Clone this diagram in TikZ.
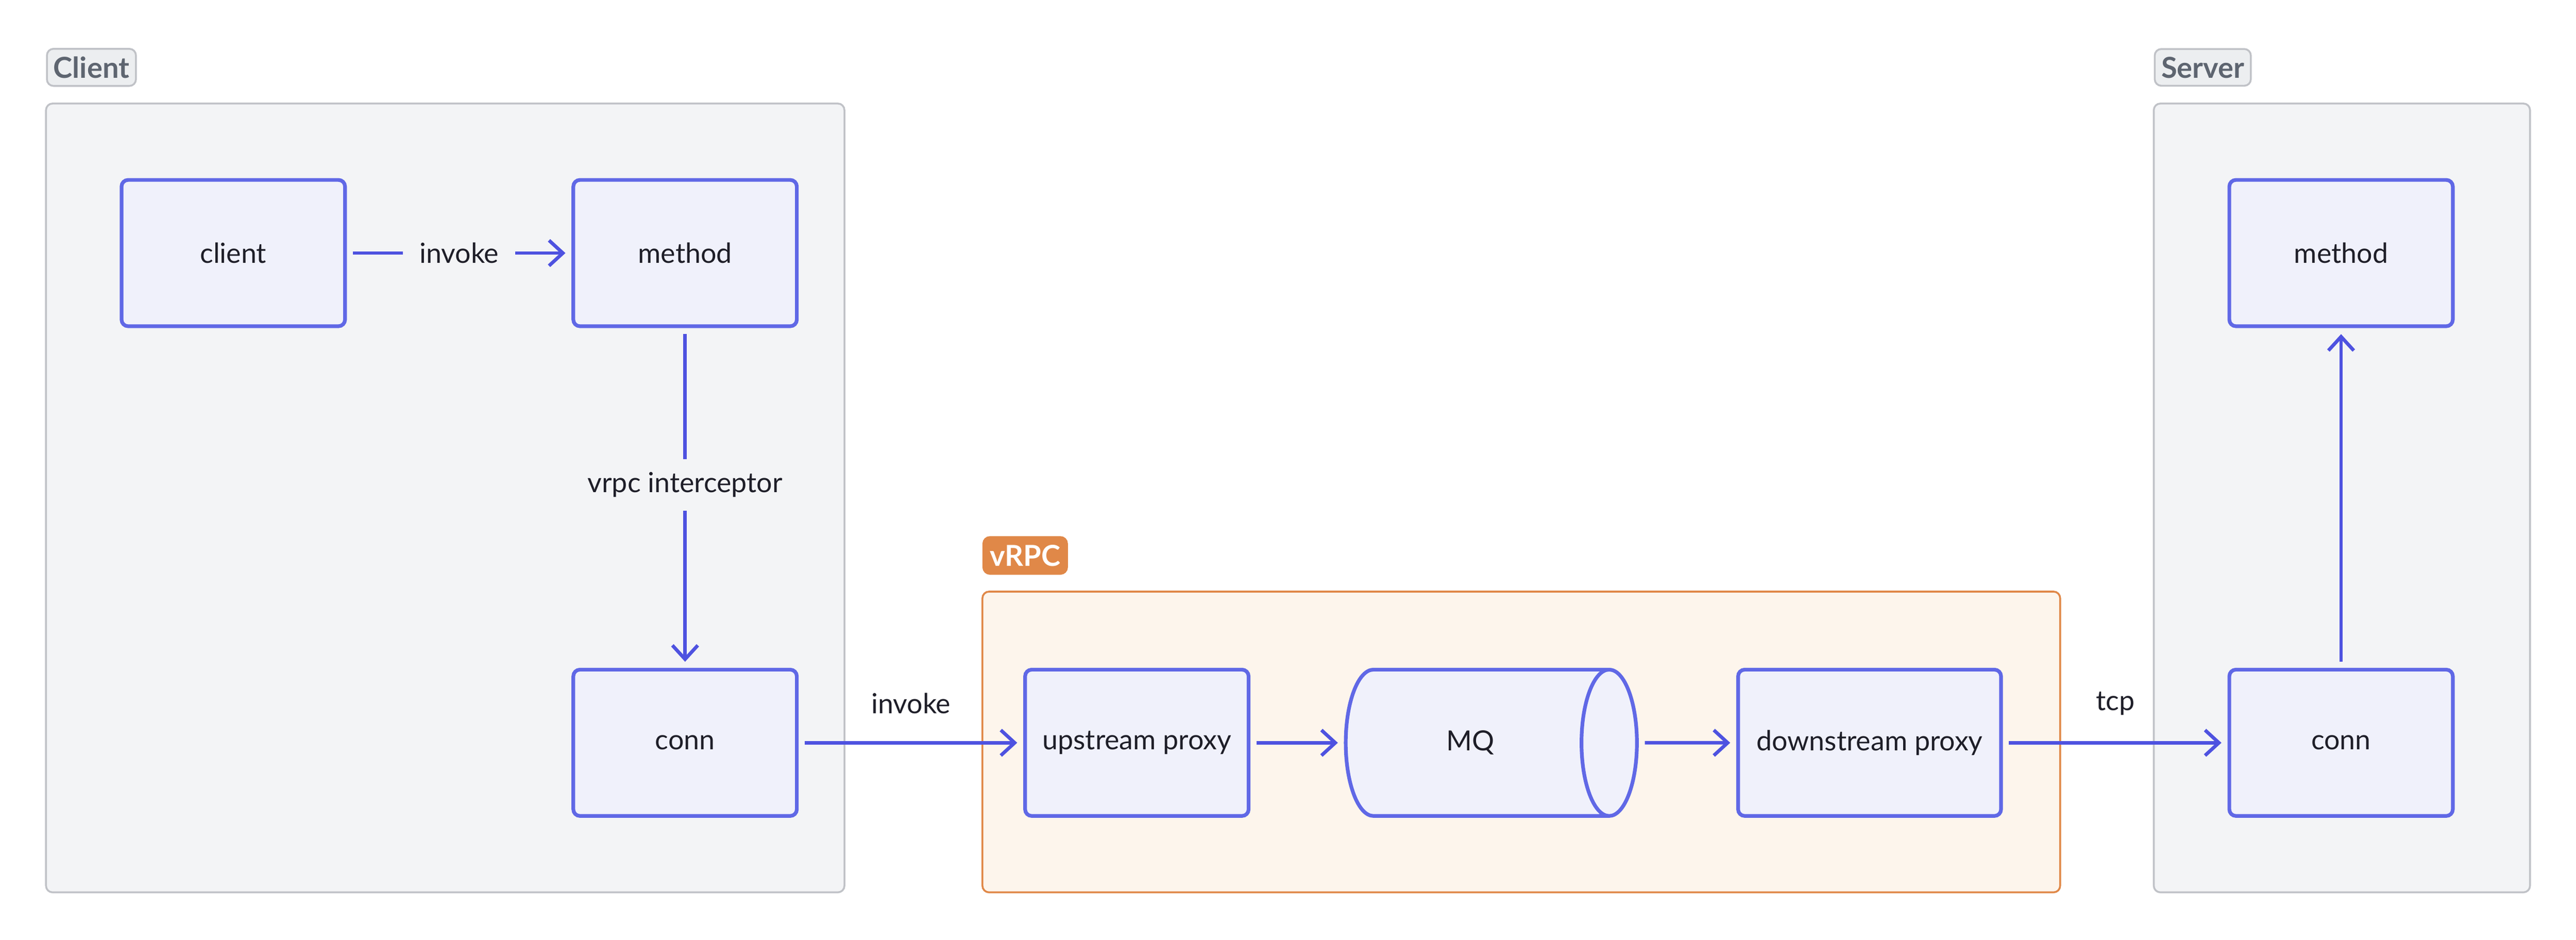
\documentclass[tikz,border=0pt]{standalone}
\usepackage{fontspec}
\setmainfont{Lato}
\usetikzlibrary{shapes.geometric,arrows.meta}

\definecolor{edgeblue}{RGB}{78,82,224}
\definecolor{nodeblue}{RGB}{96,104,230}
\definecolor{nodefill}{RGB}{240,241,251}
\definecolor{grpfill}{RGB}{243,244,246}
\definecolor{grpline}{RGB}{192,194,199}
\definecolor{tagfill}{RGB}{236,238,240}
\definecolor{tagtext}{RGB}{94,101,112}
\definecolor{vfill}{RGB}{253,245,236}
\definecolor{vline}{RGB}{224,136,72}
\definecolor{txt}{RGB}{30,30,40}

\tikzset{
  box/.style={draw=nodeblue, fill=nodefill, line width=1.6pt, rounded corners=0.1cm,
    minimum width=3.4cm, minimum height=2.225cm, outer sep=0.12cm,
    text=txt, font=\fontsize{12}{14}\selectfont},
  mq/.style={box, shape=cylinder, rounded corners=0pt, shape aspect=1.4,
    minimum width=2.225cm, minimum height=4.43cm},
  flow/.style={draw=edgeblue, line width=1.5pt, -{Straight Barb[length=6pt,width=11pt]}},
  lbl/.style={text=txt, font=\fontsize{12}{14}\selectfont, inner xsep=0.25cm, inner ysep=0.2cm},
  group/.style={draw=grpline, fill=grpfill, line width=0.8pt, rounded corners=0.1cm},
  tag/.style={draw=grpline, fill=tagfill, text=tagtext, line width=0.8pt, rounded corners=0.1cm,
    minimum height=0.55cm, inner xsep=0.1cm, anchor=west, font=\fontsize{12.5}{14}\selectfont\bfseries}
}

\begin{document}
\begin{tikzpicture}[x=0.025cm, y=-0.025cm]
    \useasboundingbox (0,0) rectangle (1568,572);
    % containers
    \draw[group] (28,63) rectangle (514,543);
    \draw[group] (1311,63) rectangle (1540,543);
    \draw[group, draw=vline, fill=vfill] (598,360) rectangle (1254,543);
    \node[tag] (clienttag) at (28,41) {Client};
    \node[tag] (servertag) at (1311,41) {Server};
    \node[tag, draw=vline, fill=vline, text=white] (vrpctag) at (598,338) {vRPC};

    % client side
    \node[box] (client) at (142,154) {client};
    \node[box] (cmethod) at (417,154) {method};
    \node[box] (cconn) at (417,452) {conn};
    % vrpc
    \node[box] (up) at (692,452) {upstream proxy};
    \node[mq] (mq) at (895,452) {MQ};
    \node[box, minimum width=4cm] (down) at (1138,452) {downstream proxy};
    % server side
    \node[box] (sconn) at (1425,452) {conn};
    \node[box] (smethod) at (1425,154) {method};

    \draw[flow] (client) -- node[lbl, fill=grpfill] {invoke} (cmethod);
    \draw[flow] (cmethod) -- node[lbl, fill=grpfill, pos=0.46] {vrpc interceptor} (cconn);
    \draw[flow] (cconn) -- node[lbl, yshift=0.6cm] {invoke} (up);
    \draw[flow] (up) -- (mq);
    \draw[flow] (mq) -- (down);
    \draw[flow] (down) -- node[lbl, yshift=0.6cm] {tcp} (sconn);
    \draw[flow] (sconn) -- (smethod);
\end{tikzpicture}
\end{document}
